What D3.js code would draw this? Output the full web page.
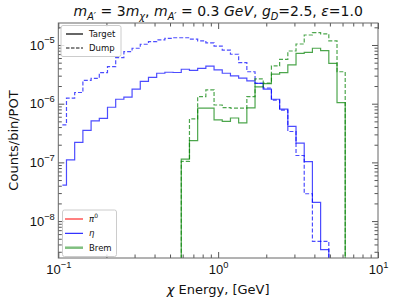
<!DOCTYPE html>
<html>
<head>
  <style>
    html, body { margin: 0; padding: 0; background: #fff; overflow: hidden; }
    svg { font-family: "DejaVu Sans", sans-serif; }
  </style>
  <script src="https://d3js.org/d3.v7.min.js"></script>
</head>
<body>
  <div id="chart"></div>
  <script>
    // log-spaced bin edges, 0.1 .. 10 GeV (39 bins)
    const binEdges = [0.1, 0.1125, 0.1266, 0.1425, 0.1604, 0.1805, 0.2031, 0.2286, 0.2572, 0.2894,
      0.3257, 0.3665, 0.4125, 0.4642, 0.5223, 0.5878, 0.6615, 0.7444, 0.8377, 0.9427,
      1.0608, 1.1938, 1.3434, 1.5118, 1.7013, 1.9145, 2.1544, 2.4245, 2.7283, 3.0703,
      3.4551, 3.8882, 4.3755, 4.9239, 5.5410, 6.2355, 7.0170, 7.8965, 8.8862, 10];

    // eta -> A' -> chi chi, target and dump
    const etaTarget = [4.1e-8, 1.1e-7, 2.2e-7, 3.5e-7, 5.1e-7, 5.6e-7, 8.7e-7, 1.19e-6, 1.29e-6, 1.77e-6,
      2.4e-6, 2.8e-6, 3.3e-6, 3.43e-6, 3.4e-6, 3.86e-6, 3.7e-6, 4.0e-6, 4.35e-6, 3.76e-6,
      3.3e-6, 2.97e-6, 2.72e-6, 2.44e-6, 2.22e-6, 1.77e-6, 1.19e-6, 8.05e-7, 4.1e-7, 2.13e-7,
      1.03e-7, 2.08e-8, 3.27e-9, 0, 0, 0, 0, 0, 0];
    const etaDump = [4.35e-7, 1.24e-6, 1.55e-6, 2.5e-6, 2.7e-6, 3.38e-6, 4.28e-6, 6.08e-6, 7.7e-6, 8.8e-6,
      1.03e-5, 1.14e-5, 1.22e-5, 1.3e-5, 1.33e-5, 1.33e-5, 1.26e-5, 1.18e-5, 1.09e-5, 9.6e-6,
      8.2e-6, 6.95e-6, 5.0e-6, 3.5e-6, 2.23e-6, 1.85e-6, 1.15e-6, 7.8e-7, 3.36e-7, 1.31e-7,
      2.92e-8, 4.5e-9, 4.5e-9, 0, 0, 0, 0, 0, 0];

    // bremsstrahlung, target and dump
    const bremTarget = [0, 0, 0, 0, 0, 0, 0, 0, 0, 0,
      0, 0, 0, 0, 0, 1.14e-7, 2.35e-7, 8.4e-7, 8.4e-7, 5.3e-7,
      5.0e-7, 5.7e-7, 4.7e-7, 8.5e-7, 1.93e-6, 2.2e-6, 3.2e-6, 3.38e-6, 4.57e-6, 7.2e-6,
      7.5e-6, 8.8e-6, 8.0e-6, 4.88e-6, 1.04e-6, 0, 0, 0, 0];
    const bremDump = [0, 0, 0, 0, 0, 0, 0, 0, 0, 0,
      0, 0, 0, 0, 0, 1.04e-7, 5.5e-7, 1.32e-6, 1.72e-6, 9.5e-7,
      8.6e-7, 8.4e-7, 8.4e-7, 1.32e-6, 2.64e-6, 2.25e-6, 4.4e-6, 5.7e-6, 7.9e-6, 1.04e-5,
      1.48e-5, 1.62e-5, 1.55e-5, 1.18e-5, 3.5e-6, 0, 0, 0, 0];

    const xMajor = [0.1, 1, 10];
    const yMajor = [1e-8, 1e-7, 1e-6, 1e-5];

    const width = 396, height = 303;
    const mLeft = 58.3, mRight = 378, mTop = 23, mBottom = 258;

    const svg = d3.select("#chart").append("svg")
      .attr("width", width)
      .attr("height", height);

    const x = d3.scaleLog().domain([0.1, 10]).range([mLeft, mRight]);
    const y = d3.scaleLog().domain([2.35e-9, 2.37e-5]).range([mBottom, mTop]);

    svg.append("clipPath").attr("id", "plot-clip")
      .append("rect")
      .attr("x", mLeft).attr("y", mTop)
      .attr("width", mRight - mLeft).attr("height", mBottom - mTop);

    const centers = d3.range(binEdges.length - 1).map(i => Math.sqrt(binEdges[i] * binEdges[i + 1]));

    // matplotlib step(where="mid") look: empty bins fall off the bottom
    const line = d3.line()
      .x(d => x(d[0]))
      .y(d => d[1] > 0 ? y(d[1]) : mBottom + 200)
      .curve(d3.curveStep);

    const series = [
      { values: etaDump, color: "blue", dash: "4,2" },
      { values: etaTarget, color: "blue", dash: null },
      { values: bremDump, color: "green", dash: "4,2" },
      { values: bremTarget, color: "green", dash: null }
    ];

    const plot = svg.append("g").attr("clip-path", "url(#plot-clip)");
    series.forEach(s => {
      plot.append("path")
        .datum(centers.map((c, i) => [c, s.values[i]]))
        .attr("d", line)
        .attr("fill", "none")
        .attr("stroke", s.color)
        .attr("stroke-opacity", 0.7)
        .attr("stroke-width", 1.2)
        .attr("stroke-dasharray", s.dash);
    });

    // axes, ticks pointing inward on all four sides
    const xMinor = x.ticks().filter(v => !xMajor.some(m => Math.abs(v / m - 1) < 1e-6));
    const yMinor = y.ticks().filter(v => !yMajor.some(m => Math.abs(v / m - 1) < 1e-6));

    function styleAxis(g) {
      g.select(".domain").remove();
      g.selectAll(".tick line").attr("stroke", "#555");
    }

    function supLabel(t, exp, size) {
      t.text(null).attr("font-size", size).attr("fill", "#111");
      t.append("tspan").text("10");
      t.append("tspan").attr("dy", -size * 0.48).attr("font-size", size * 0.72).text(exp);
    }

    function expText(d) {
      const e = Math.round(Math.log10(d));
      return (e < 0 ? "\u2212" : "") + Math.abs(e);
    }

    const gx = svg.append("g").attr("transform", `translate(0,${mBottom})`)
      .call(d3.axisBottom(x).tickValues(xMajor).tickSize(-6).tickPadding(7))
      .call(styleAxis);
    gx.selectAll(".tick text").each(function(d) {
      supLabel(d3.select(this), expText(d), 13);
    });
    svg.append("g").attr("transform", `translate(0,${mBottom})`)
      .call(d3.axisBottom(x).tickValues(xMinor).tickSize(-3.5).tickFormat(""))
      .call(styleAxis);
    svg.append("g").attr("transform", `translate(0,${mTop})`)
      .call(d3.axisTop(x).tickValues(xMajor).tickSize(-6).tickFormat(""))
      .call(styleAxis);
    svg.append("g").attr("transform", `translate(0,${mTop})`)
      .call(d3.axisTop(x).tickValues(xMinor).tickSize(-3.5).tickFormat(""))
      .call(styleAxis);

    const gy = svg.append("g").attr("transform", `translate(${mLeft},0)`)
      .call(d3.axisLeft(y).tickValues(yMajor).tickSize(-6).tickPadding(4))
      .call(styleAxis);
    gy.selectAll(".tick text").attr("x", -3.5).attr("dy", "0.32em").each(function(d) {
      supLabel(d3.select(this), expText(d), 13);
    });
    svg.append("g").attr("transform", `translate(${mLeft},0)`)
      .call(d3.axisLeft(y).tickValues(yMinor).tickSize(-3.5).tickFormat(""))
      .call(styleAxis);
    svg.append("g").attr("transform", `translate(${mRight},0)`)
      .call(d3.axisRight(y).tickValues(yMajor).tickSize(-6).tickFormat(""))
      .call(styleAxis);
    svg.append("g").attr("transform", `translate(${mRight},0)`)
      .call(d3.axisRight(y).tickValues(yMinor).tickSize(-3.5).tickFormat(""))
      .call(styleAxis);

    svg.append("rect")
      .attr("x", mLeft).attr("y", mTop)
      .attr("width", mRight - mLeft).attr("height", mBottom - mTop)
      .attr("fill", "none").attr("stroke", "#666").attr("stroke-width", 1);

    // text with italic / sub / sup pieces
    function richText(sel, parts, size) {
      let shift = 0;
      parts.forEach(p => {
        const want = p.sub ? size * 0.28 : p.sup ? -size * 0.42 : 0;
        sel.append("tspan")
          .attr("dy", want - shift)
          .attr("font-size", p.sub || p.sup ? size * 0.7 : size)
          .attr("font-style", p.i ? "italic" : null)
          .text(p.t);
        shift = want;
      });
    }

    const title = svg.append("text")
      .attr("x", (mLeft + mRight) / 2).attr("y", 16)
      .attr("text-anchor", "middle").attr("fill", "#111");
    richText(title, [
      { t: "m", i: true }, { t: "A\u2032", i: true, sub: true }, { t: " = 3" },
      { t: "m", i: true }, { t: "\u03c7", i: true, sub: true }, { t: ", " },
      { t: "m", i: true }, { t: "A\u2032", i: true, sub: true }, { t: " = 0.3 " },
      { t: "GeV", i: true }, { t: ", " },
      { t: "g", i: true }, { t: "D", i: true, sub: true }, { t: "=2.5, " },
      { t: "\u03b5", i: true }, { t: "=1.0" }
    ], 14);

    const xLabel = svg.append("text")
      .attr("x", (mLeft + mRight) / 2).attr("y", 294)
      .attr("text-anchor", "middle").attr("fill", "#111");
    richText(xLabel, [{ t: "\u03c7", i: true }, { t: " Energy, [GeV]" }], 13);

    svg.append("text")
      .attr("transform", `translate(17.5,${(mTop + mBottom) / 2}) rotate(-90)`)
      .attr("text-anchor", "middle").attr("font-size", 13).attr("fill", "#111")
      .text("Counts/bin/POT");

    // legend: line style
    const leg1 = svg.append("g");
    leg1.append("rect")
      .attr("x", 61).attr("y", 25.5).attr("width", 60).attr("height", 31)
      .attr("rx", 2).attr("fill", "#fff").attr("fill-opacity", 0.8)
      .attr("stroke", "#ccc");
    [{ label: "Target", dash: null, color: "#555", w: 1.8, yy: 34 },
     { label: "Dump", dash: "3.5,1.5", color: "#111", w: 1, yy: 48 }].forEach(e => {
      leg1.append("line")
        .attr("x1", 66).attr("x2", 83).attr("y1", e.yy).attr("y2", e.yy)
        .attr("stroke", e.color).attr("stroke-width", e.w).attr("stroke-dasharray", e.dash);
      leg1.append("text").attr("x", 89).attr("y", e.yy + 3)
        .attr("font-size", 8.5).attr("fill", "#111").text(e.label);
    });

    // legend: production channel
    const leg2 = svg.append("g");
    leg2.append("rect")
      .attr("x", 62.5).attr("y", 210).attr("width", 54).attr("height", 46.5)
      .attr("rx", 2).attr("fill", "#fff").attr("fill-opacity", 0.8)
      .attr("stroke", "#ccc");
    const channels = [
      { parts: [{ t: "\u03c0", i: true }, { t: "0", sup: true }], color: "red", w: 1, op: 1, yy: 219 },
      { parts: [{ t: "\u03b7", i: true }], color: "blue", w: 1, op: 1, yy: 233.3 },
      { parts: [{ t: "Brem" }], color: "green", w: 2.5, op: 0.5, yy: 247.7 }
    ];
    channels.forEach(e => {
      leg2.append("line")
        .attr("x1", 65).attr("x2", 83).attr("y1", e.yy).attr("y2", e.yy)
        .attr("stroke", e.color).attr("stroke-width", e.w).attr("stroke-opacity", e.op);
      const t = leg2.append("text").attr("x", 89).attr("y", e.yy + 3).attr("fill", "#111");
      richText(t, e.parts, 8.5);
    });
  </script>
</body>
</html>
